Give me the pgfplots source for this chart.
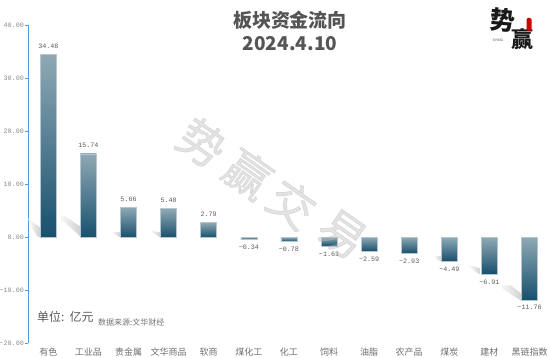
\documentclass[border=0pt]{standalone}
\usepackage{pgfplots}
\usepackage{fontspec}
\pgfplotsset{compat=1.18}
\setmainfont{Liberation Sans}
\newfontfamily\cjk{Noto Sans CJK SC}
\newfontfamily\cjkw[FakeBold=1.4]{Noto Sans CJK SC}
\newfontfamily\monof{Liberation Mono}
\definecolor{axisblue}{HTML}{4F9AE0}
\definecolor{tlab}{HTML}{8A8A8A}
\definecolor{xlab}{HTML}{6E6E6E}
\definecolor{vlab}{HTML}{5A5A5A}
\definecolor{bartop}{HTML}{8FA9B4}
\definecolor{barbot}{HTML}{17506E}
\definecolor{baredge}{HTML}{B4C7CF}
\definecolor{titlec}{HTML}{555555}
\newcommand\shadow[1]{\addplot[forget plot,no marks,draw=none,left color=white,right color=black!18] table[x expr=(\thisrow{a}-48.3)/40.1,y expr=(237-\thisrow{b})/5.308,row sep=\\]{a b\\ #1};}
\pgfplotsset{mybar/.style={ybar,forget plot,bar width=16pt,bar shift=0pt,top color=bartop,bottom color=barbot,
  draw=baredge,line width=0.5pt,
  nodes near coords,
  nodes near coords style={font=\monof\fontsize{6.7}{7}\selectfont,text=vlab,inner ysep=5.5pt},
  point meta=explicit symbolic},
  pos/.style={mybar,nodes near coords align={anchor=south}},
  neg/.style={mybar,nodes near coords align={anchor=north}}}
\begin{document}
\begin{tikzpicture}
\useasboundingbox (0,0) rectangle (550pt,358pt);
\begin{axis}[
  at={(28.5pt,14.5pt)},anchor=south west,
  scale only axis,width=521.5pt,height=318.5pt,
  xmin=-0.494,xmax=12.51,ymin=-20,ymax=40,
  axis y line=left,axis x line*=bottom,
  x axis line style={draw=none,-},
  y axis line style={draw=axisblue,line width=1.2pt,-},
  ytick={-20,-10,0,10,20,30,40},
  yticklabels={−20.00,−10.00,0.00,10.00,20.00,30.00,40.00},
  xtick={0,...,12},
  xticklabels={有色,工业品,贵金属,文华商品,软商,煤化工,化工,饲料,油脂,农产品,煤炭,建材,黑链指数},
  xtick style={draw=none},
  ytick style={draw=axisblue,line width=0.8pt},
  tick align=outside,major tick length=3.5pt,
  yticklabel style={font=\monof\fontsize{6.7}{7}\selectfont,text=tlab,inner xsep=1pt},
  xticklabel style={font=\cjk\fontsize{9}{10}\selectfont,text=xlab,yshift=2.8pt},
  clip=false,
]
\shadow{28 218\\ 40 227\\ 40 237\\ 37 236\\ 31 226\\}
\shadow{57 216\\ 65 216\\ 80 226\\ 80 236\\ 76 232\\}
\shadow{111 231\\ 120 232\\ 120 237\\ 116 235\\}
\shadow{150 230\\ 160 232\\ 160 237\\ 155 234\\}
\shadow{433 255\\ 441 256\\ 441 261\\ 437 259\\}
\shadow{468 264\\ 480 268\\ 480 274\\ 473 270\\}
\shadow{497 285\\ 511 285\\ 522 294\\ 522 301\\}
\addplot[pos] coordinates {(0,34.48)[34.48]};
\addplot[pos] coordinates {(1,15.74)[15.74]};
\addplot[pos] coordinates {(2,5.66)[5.66]};
\addplot[pos] coordinates {(3,5.40)[5.40]};
\addplot[pos] coordinates {(4,2.79)[2.79]};
\addplot[neg] coordinates {(5,-0.34)[−0.34]};
\addplot[neg] coordinates {(6,-0.78)[−0.78]};
\addplot[neg] coordinates {(7,-1.61)[−1.61]};
\addplot[neg] coordinates {(8,-2.59)[−2.59]};
\addplot[neg] coordinates {(9,-2.93)[−2.93]};
\addplot[neg] coordinates {(10,-4.49)[−4.49]};
\addplot[neg] coordinates {(11,-6.91)[−6.91]};
\addplot[neg] coordinates {(12,-11.76)[−11.76]};
\end{axis}
\begin{scope}[x=1pt,y=-1pt,yshift=358pt]
\foreach \c/\X/\Y in {势/202/143,赢/248/174,交/292/204,易/342/234}
  \node[rotate=-35,font=\cjkw\fontsize{46}{48}\selectfont,text=black!28,text opacity=0.4,inner sep=0] at (\X,\Y) {\c};
\node[font=\cjk\bfseries\fontsize{19}{21}\selectfont,text=titlec,inner sep=0] at (290,20) {板块资金流向};
\node[font=\cjk\bfseries\fontsize{19}{21}\selectfont,text=titlec,inner sep=0] at (290,44) {2024.4.10};
\node[anchor=west,font=\cjk\fontsize{12}{13}\selectfont,text=black!65,inner sep=0] at (37,317) {单位:\hspace{5pt}亿元};
\node[anchor=west,font=\cjk\fontsize{8}{9}\selectfont,text=black!55,inner sep=0] at (98,322) {数据来源:文华财经};
\node[font=\cjk\bfseries\fontsize{25}{27}\selectfont,text=black!90,rotate=-5,inner sep=0] at (503,20) {势};
\node[font=\cjk\bfseries\fontsize{22}{24}\selectfont,text=black!90,inner sep=0] at (522,39) {赢};
\node[font=\fontsize{3.5}{4}\selectfont,text=black!70,inner sep=0] at (498,40) {SYING};
\fill[red!80!black,rounded corners=1.5pt] (526.5,18) rectangle (531.5,31);
\end{scope}
\end{tikzpicture}
\end{document}
